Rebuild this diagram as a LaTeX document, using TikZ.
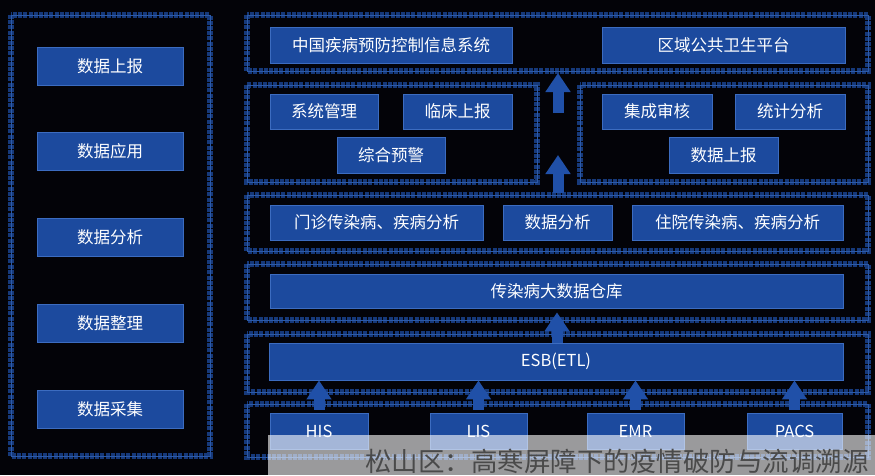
\documentclass[tikz,border=0pt]{standalone}
\usepackage{fontspec}
\setmainfont{Noto Sans CJK SC}
\usetikzlibrary{arrows.meta}
\definecolor{bg}{HTML}{030308}
\definecolor{boxblue}{HTML}{1C4A9E}
\definecolor{boxedge}{HTML}{3C6CC0}
\definecolor{frameA}{HTML}{16397A}
\definecolor{frameB}{HTML}{2C5AA8}
\definecolor{arrowblue}{HTML}{2050A8}
\definecolor{wmtext}{HTML}{4A4A4A}
\newcommand{\frm}[4]{%
  \draw[frameA, line width=5.5pt, dash pattern=on 4pt off 1.2pt] (#1,#2) rectangle (#3,#4);
  \draw[frameB, line width=0.9pt] (#1,#2) rectangle (#3,#4);}
\tikzset{
  box/.style={fill=boxblue, draw=boxedge, line width=0.8pt, text=white,
    font=\fontsize{16.5}{18}\selectfont, inner sep=0pt},
  uparrow/.style={draw=arrowblue, line width=11pt,
    -{Triangle[width=24pt,length=19pt]}},
}
\begin{document}
\begin{tikzpicture}[x=1pt,y=-1pt]
\useasboundingbox (0,0) rectangle (875,475);
\fill[bg] (0,0) rectangle (875,475);
% frames
\frm{11}{15}{210}{456}
\frm{247}{15}{868}{71}
\frm{247}{85}{537}{182}
\frm{580}{85}{868}{182}
\frm{247}{195}{868}{251}
\frm{247}{264}{868}{320}
\frm{247}{334}{868}{392}
\frm{247}{404}{868}{457}
% left column
\node[box, minimum width=146pt, minimum height=38pt] (l1) at (110,66) {数据上报};
\node[box, minimum width=146pt, minimum height=38pt] (l2) at (110,151.5) {数据应用};
\node[box, minimum width=146pt, minimum height=38pt] (l3) at (110,237) {数据分析};
\node[box, minimum width=146pt, minimum height=38pt] (l4) at (110,323) {数据整理};
\node[box, minimum width=146pt, minimum height=38pt] (l5) at (110,409) {数据采集};
% top row
\node[box, minimum width=242pt, minimum height=36pt] (cdc) at (391,45) {中国疾病预防控制信息系统};
\node[box, minimum width=243pt, minimum height=36pt] (reg) at (723.5,45) {区域公共卫生平台};
% second frame
\node[box, minimum width=108pt, minimum height=35pt] (sys) at (324,111.5) {系统管理};
\node[box, minimum width=109pt, minimum height=35pt] (clin) at (457.5,111.5) {临床上报};
\node[box, minimum width=108pt, minimum height=36pt] (warn) at (391,155) {综合预警};
\node[box, minimum width=110pt, minimum height=35pt] (integ) at (657,111.5) {集成审核};
\node[box, minimum width=110pt, minimum height=35pt] (stat) at (790,111.5) {统计分析};
\node[box, minimum width=109pt, minimum height=36pt] (rep) at (723.5,155) {数据上报};
% analysis row
\node[box, minimum width=213pt, minimum height=35pt] (out) at (376.5,222.5) {门诊传染病、疾病分析};
\node[box, minimum width=109pt, minimum height=35pt] (ana) at (557.5,222.5) {数据分析};
\node[box, minimum width=211pt, minimum height=35pt] (inp) at (737.5,222.5) {住院传染病、疾病分析};
% warehouse
\node[box, minimum width=573pt, minimum height=34pt] (dw) at (556.5,291) {传染病大数据仓库};
% ESB
\node[box, minimum width=574pt, minimum height=37pt] (esb) at (556,361.5) {ESB(ETL)};
% sources
\node[box, minimum width=98pt, minimum height=36pt] (his) at (319,431) {HIS};
\node[box, minimum width=97pt, minimum height=36pt] (lis) at (478.5,431) {LIS};
\node[box, minimum width=97pt, minimum height=36pt] (emr) at (635.5,431) {EMR};
\node[box, minimum width=95pt, minimum height=36pt] (pacs) at (794.5,431) {PACS};
% arrows
\coordinate (a1s) at (558,113);
\coordinate (a1e) at (558,73);
\coordinate (a2s) at (558,193);
\coordinate (a2e) at (558,155);
\draw[uparrow] (a1s) -- (a1e);
\draw[uparrow] (a2s) -- (a2e);
\draw[uparrow, shorten >=4pt] (esb.north -| 557,0) -- (dw.south -| 557,0);
\draw[uparrow, shorten <=3pt] (his.north) -- (his.north |- esb.south);
\draw[uparrow, shorten <=3pt] (lis.north) -- (lis.north |- esb.south);
\draw[uparrow, shorten <=3pt] (emr.north) -- (emr.north |- esb.south);
\draw[uparrow, shorten <=3pt] (pacs.north) -- (pacs.north |- esb.south);
% caption overlay
\fill[white, fill opacity=0.6] (268,435) rectangle (875,475);
\node[anchor=west, text=wmtext, font=\fontsize{26.5}{30}\selectfont, inner sep=0pt] (wm) at (365,461) {松山区：高寒屏障下的疫情破防与流调溯源};
\end{tikzpicture}
\end{document}
